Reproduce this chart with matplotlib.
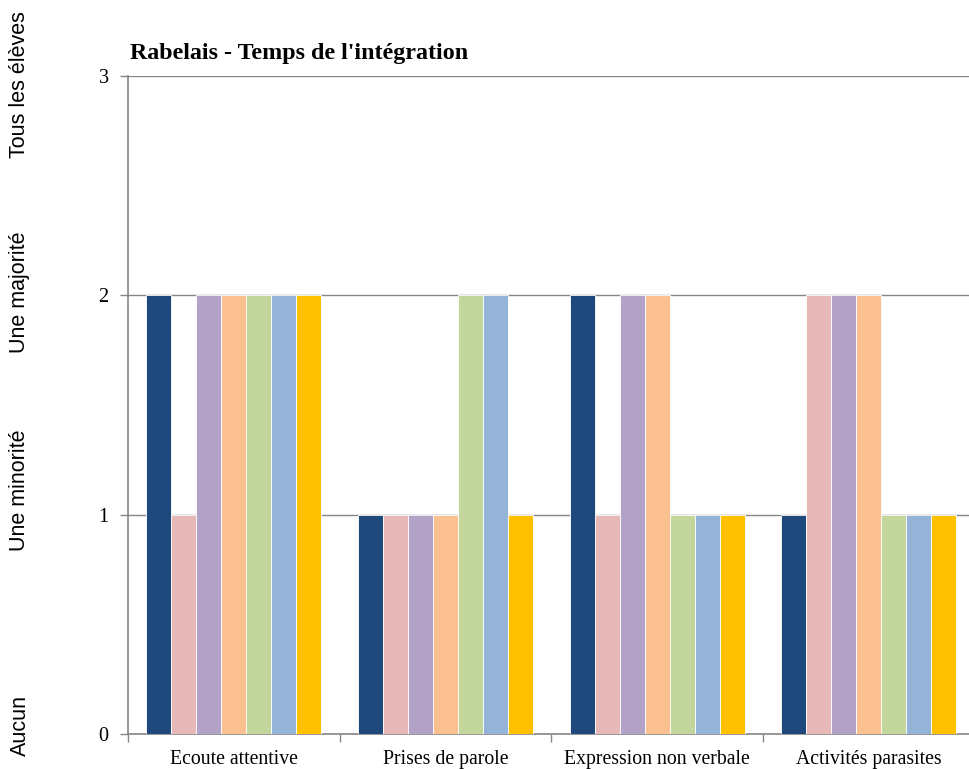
import numpy as np
import matplotlib
matplotlib.use("Agg")
from matplotlib import pyplot as plt
from matplotlib import transforms

categories = ["Ecoute attentive", "Prises de parole", "Expression non verbale", "Activités parasites"]
series_1 = [2, 1, 2, 1]
series_2 = [1, 1, 1, 2]
series_3 = [2, 1, 2, 2]
series_4 = [2, 1, 2, 2]
series_5 = [2, 2, 1, 1]
series_6 = [2, 2, 1, 1]
series_7 = [2, 1, 1, 1]
level_labels = ["Aucun", "Une minorité", "Une majorité", "Tous les élèves"]
title = "Rabelais - Temps de l'intégration"

colors = ["#1F497D", "#E6B9B8", "#B3A2C7", "#FAC090", "#C3D69B", "#95B3D7", "#FFC000"]
all_series = [series_1, series_2, series_3, series_4, series_5, series_6, series_7]

fig = plt.figure(figsize=(9.69, 7.69), dpi=100)
ax = fig.add_axes([128 / 969, 1 - 734 / 769, 846.7 / 969, 658 / 769])

x = np.arange(len(categories))
width = 0.118
n = len(all_series)
for i, vals in enumerate(all_series):
    offset = (i - (n - 1) / 2) * width
    ax.bar(x + offset, vals, width, color=colors[i], edgecolor="white",
           linewidth=0.6, zorder=3)

ax.set_xlim(-0.5, len(categories) - 0.5)
ax.set_ylim(0, 3)
ax.set_yticks([0, 1, 2, 3])
ax.set_yticklabels(["0", "1", "2", "3"], fontfamily="Liberation Serif", fontsize=14.5)
ax.yaxis.grid(True, color="#868686", linewidth=1, zorder=0)
ax.tick_params(axis="y", length=6, width=1, color="#868686", pad=8)

ax.set_xticks(x)
ax.set_xticklabels(categories, fontfamily="Liberation Serif", fontsize=14.2)
ax.tick_params(axis="x", which="major", length=0, pad=11.5)
ax.set_xticks(np.arange(-0.5, len(categories), 1.0), minor=True)
ax.tick_params(axis="x", which="minor", length=6, width=1, color="#868686")

for side in ["top", "right"]:
    ax.spines[side].set_visible(False)
for side in ["left", "bottom"]:
    ax.spines[side].set_color("#868686")
    ax.spines[side].set_linewidth(1.2)

trans = transforms.blended_transform_factory(fig.transFigure, ax.transData)
ypos = [0.04, 1.11, 2.015, 2.96]
for lab, yv in zip(level_labels, ypos):
    fig.text(20 / 969, yv, lab, transform=trans, rotation=90, ha="center",
             va="center", fontfamily="Liberation Sans", fontsize=15.5)

fig.text(130 / 969, 1 - 54 / 769, title, fontfamily="Liberation Serif",
         fontweight="bold", fontsize=17.3, ha="left", va="center")

fig.savefig("out.png", dpi=100)
